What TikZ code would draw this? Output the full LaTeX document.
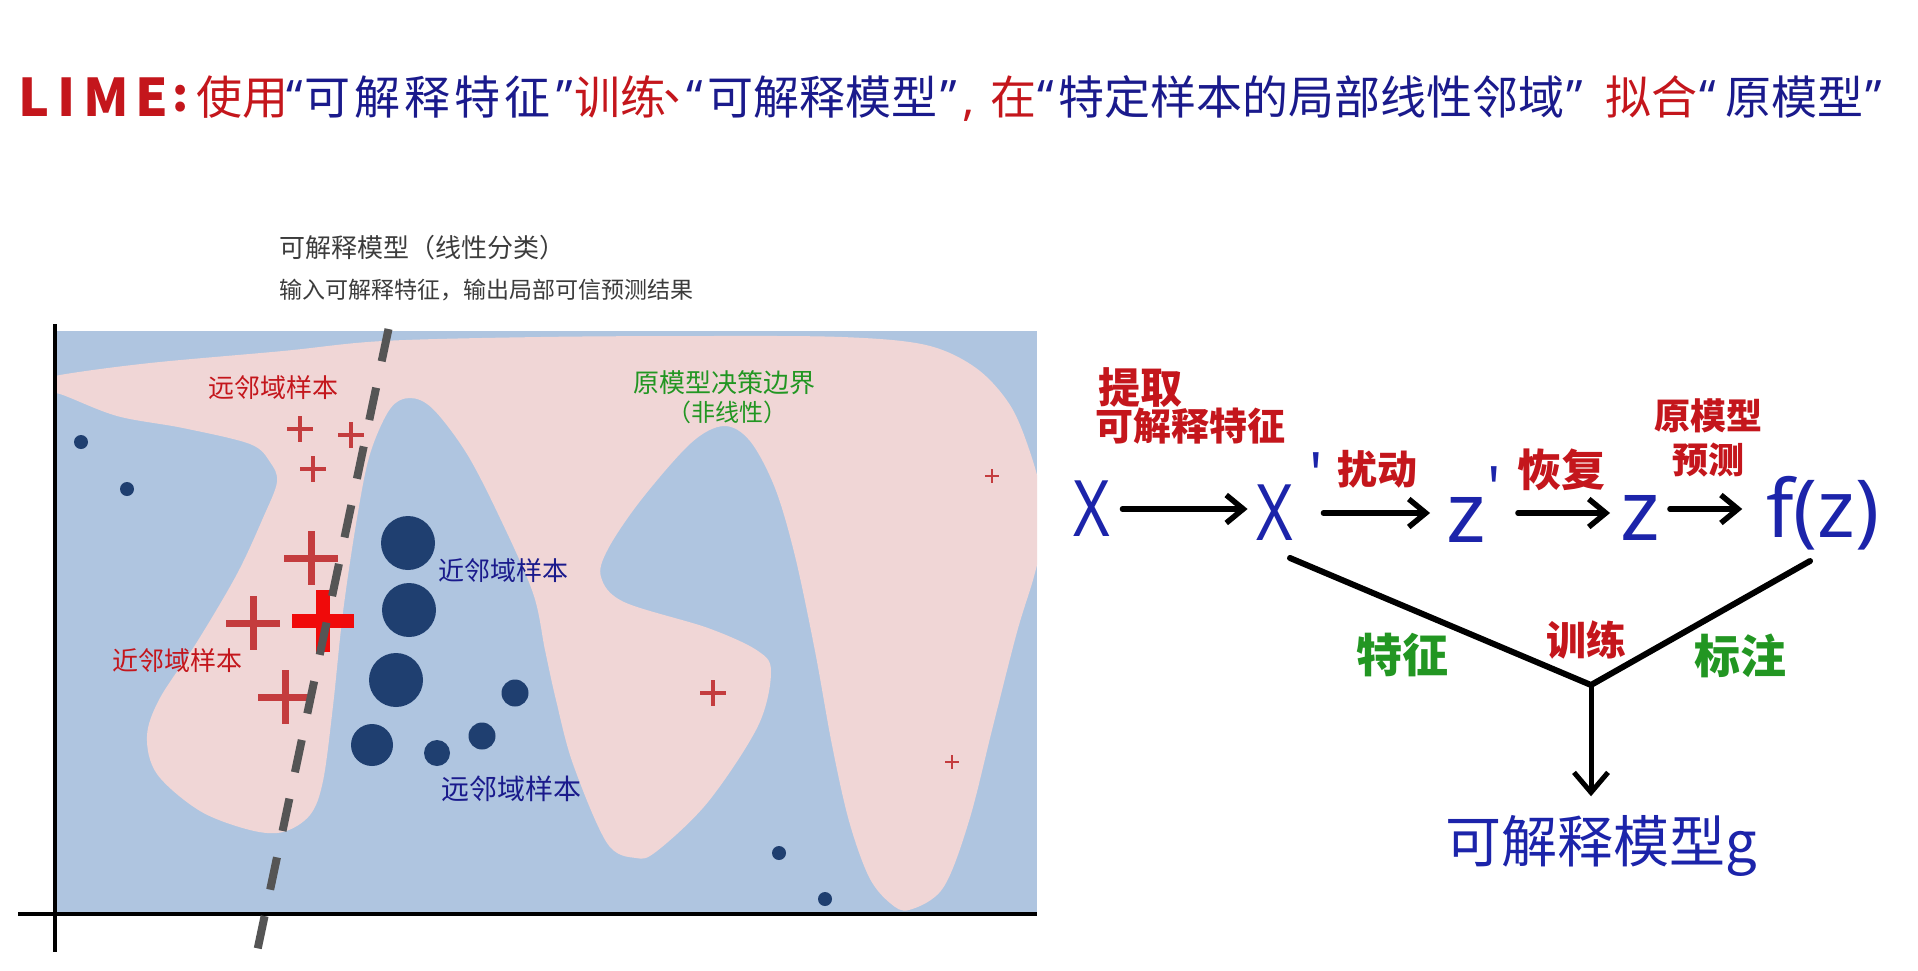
\documentclass[tikz,border=0pt]{standalone}
\usepackage{fontspec}
\setmainfont{Noto Sans CJK SC}
\newfontfamily\latf{Noto Sans}
\usetikzlibrary{arrows.meta,calc}
\definecolor{tred}{RGB}{196,22,28}
\definecolor{tblue}{RGB}{26,26,140}
\definecolor{tgreen}{RGB}{34,150,34}
\definecolor{dblue}{RGB}{28,36,170}
\definecolor{plotblue}{RGB}{175,197,224}
\definecolor{plotpink}{RGB}{240,214,214}
\definecolor{dotblue}{RGB}{31,63,112}
\definecolor{crossred}{RGB}{196,60,62}
\definecolor{brightred}{RGB}{240,10,10}
\definecolor{annogray}{RGB}{60,60,60}
\definecolor{dashgray}{RGB}{85,85,85}
\newcommand\fs[1]{\fontsize{#1}{#1}\selectfont}
\newcommand\pcross[5]{\draw[#5,line width=#4] (#1,#2) +(-#3,0) -- +(#3,0) +(0,-#3) -- +(0,#3);}
\begin{document}
\begin{tikzpicture}[x=1pt,y=-1pt,
  ttl/.style={anchor=west,inner sep=0pt,font=\fs{46}},
  qt/.style={anchor=west,inner sep=0pt,text=tblue,font=\latf\fs{46}},
  anno/.style={anchor=west,inner sep=0pt,text=annogray},
  lbl/.style={inner sep=0pt,font=\fs{26}},
  rl/.style={inner sep=0pt,text=tred,font=\bfseries\fs{40}},
  gl/.style={inner sep=0pt,text=tgreen,font=\bfseries\fs{46}},
  let/.style={inner sep=0pt,text=dblue,font=\latf\fs{78}},
  harr/.style={line width=5.5pt,line cap=round,line join=round,-{Straight Barb[length=17pt,width=28pt]}},
  varr/.style={line width=5pt,line cap=round,line join=round,-{Straight Barb[length=20pt,width=34pt]}},
  vline/.style={line width=6pt,line cap=round,line join=round}]
\useasboundingbox (0,0) rectangle (1918,970);
\fill[white] (0,0) rectangle (1918,970);
% ---------- title ----------
\node[ttl,text=tred,font=\bfseries\fs{52}] (lime) at (18,97) {L\kern8pt I\kern8pt M\kern6pt E};
\node[ttl,text=tred,font=\bfseries\fs{46}] (colon) at (172,99) {:};
\node[ttl,text=tred] (t1) at (196,97) {使用};
\node[qt] (q1) at (286,97) {“};
\node[ttl,text=tblue,font=\fs{46}\addfontfeature{LetterSpace=9}] (t2) at (304,97) {可解释特征};
\node[qt] (q2) at (556,97) {”};
\node[ttl,text=tred] (t3) at (574,97) {训练};
\node[ttl,text=tred] (t3b) at (664,97) {､};
\node[qt] (q3) at (686,97) {“};
\node[ttl,text=tblue] (t4) at (707,97) {可解释模型};
\node[qt] (q4) at (940,97) {”};
\node[qt,text=tred] (t5) at (962,116) {,};
\node[ttl,text=tred] (t6) at (990,97) {在};
\node[qt] (q5) at (1037,97) {“};
\node[ttl,text=tblue] (t7) at (1058,97) {特定样本的局部线性邻域};
\node[qt] (q6) at (1566,97) {”};
\node[ttl,text=tred] (t8) at (1605,97) {拟合};
\node[qt] (q7) at (1699,97) {“};
\node[ttl,text=tblue] (t9) at (1725,97) {原模型};
\node[qt] (q8) at (1865,97) {”};
% ---------- annotation ----------
\node[anno,font=\fs{26}] (a1) at (279,248) {可解释模型（线性分类）};
\node[anno,font=\fs{23}] (a2) at (279,290) {输入可解释特征，输出局部可信预测结果};
% ---------- plot ----------
\fill[plotblue] (57,331) rectangle (1037,914);
\begin{scope}
\clip (57,331) rectangle (1037,914);
\fill[plotpink] plot[smooth cycle,tension=0.55] coordinates {
(45,382) (60,375) (150,363) (283,351) (383,341) (540,337) (700,336) (842,337) (926,345) (976,368) (1010,405) (1030,452) (1042,500) (1040,548) (1033,580) (1017,632) (993,726) (969,821) (943,888) (909,910) (890,903) (869,877) (849,821) (832,745) (815,651) (795,556) (775,488) (750,441) (724,426) (691,443) (641,500) (608,549) (601,577) (624,602) (708,628) (758,651) (771,672) (758,726) (708,802) (657,851) (636,858) (607,843) (573,764) (556,700) (545,650) (533,593) (500,518) (467,454) (433,409) (410,398) (390,409) (370,454) (357,518) (343,612) (333,706) (323,781) (310,815) (283,832) (250,830) (200,811) (157,774) (147,736) (160,698) (197,642) (237,574) (263,518) (277,482) (270,462) (250,444) (183,428) (117,416) (60,394) (45,394)};
\end{scope}
% dots
\fill[dotblue] (81,442) circle[radius=7pt];
\fill[dotblue] (127,489) circle[radius=7pt];
\fill[dotblue] (779,853) circle[radius=7pt];
\fill[dotblue] (825,899) circle[radius=7pt];
\fill[dotblue] (408,543) circle[radius=27pt];
\fill[dotblue] (409,610) circle[radius=27pt];
\fill[dotblue] (396,680) circle[radius=27pt];
\fill[dotblue] (372,745) circle[radius=21pt];
\fill[dotblue] (437,753) circle[radius=13pt];
\fill[dotblue] (482,736) circle[radius=13.5pt];
\fill[dotblue] (515,693) circle[radius=13.5pt];
% crosses
\pcross{300}{429}{13}{3.2pt}{crossred}
\pcross{351}{435}{13}{3.2pt}{crossred}
\pcross{313}{469}{13}{3.2pt}{crossred}
\pcross{311}{558}{27}{7pt}{crossred}
\pcross{253}{623}{27}{7pt}{crossred}
\pcross{285}{697}{27}{7pt}{crossred}
\pcross{992}{476}{7}{2pt}{crossred}
\pcross{713}{693}{13}{3.2pt}{crossred}
\pcross{952}{762}{7}{2pt}{crossred}
\pcross{323}{621}{31}{14pt}{brightred}
% axes
\draw[line width=3.5pt] (55,324) -- (55,952);
\draw[line width=3.5pt] (18,914) -- (1037,914);
% dashed linear boundary
\draw[dashgray,line width=8pt,dash pattern=on 33pt off 27pt] (388.5,329) -- (257,952);
% plot labels
\node[lbl,text=tred] (far1) at (273,388) {远邻域样本};
\node[lbl,text=tgreen] (bd1) at (724,383) {原模型决策边界};
\node[lbl,text=tgreen,font=\fs{24}] (bd2) at (727,412) {（非线性）};
\node[lbl,text=tblue] (near1) at (503,571) {近邻域样本};
\node[lbl,text=tred] (near2) at (177,661) {近邻域样本};
\node[lbl,text=tblue,font=\fs{28}] (far2) at (511,789) {远邻域样本};
% ---------- right diagram ----------
\node[rl,font=\bfseries\fs{42}] (ext1) at (1140,388) {提取};
\node[rl,font=\bfseries\fs{38}] (ext2) at (1190,426) {可解释特征};
\node[rl] (pert) at (1377,469) {扰动};
\node[rl,font=\bfseries\fs{44}] (rec) at (1561,470) {恢复};
\node[rl,font=\bfseries\fs{36}] (orig1) at (1708,416) {原模型};
\node[rl,font=\bfseries\fs{36}] (orig2) at (1708,460) {预测};
\node[let,xscale=0.8] (x1) at (1092,509) {X};
\node[let,xscale=0.8] (x2) at (1275,513) {X};
\node[let,font=\latf\fs{60}] (p1) at (1316,474) {'};
\node[let,font=\latf\fs{84}] (z1) at (1466,520) {z};
\node[let,font=\latf\fs{60}] (p2) at (1494,488) {'};
\node[let,font=\latf\fs{84}] (z2) at (1640,518) {z};
\node[let,font=\latf\fs{80}] (fz) at (1823,513) {f(z)};
\draw[harr] ([xshift=12pt]x1.east) -- ([xshift=-9pt]x1.east -| x2.west);
\draw[harr] ([xshift=30pt]x2.east) -- ([xshift=-16pt]x2.east -| z1.west);
\draw[harr] ([xshift=32pt]z1.east |- x2.east) -- ([xshift=-10pt]x2.east -| z2.west);
\draw[harr] ([xshift=10pt]z2.east |- x1.east) -- ([xshift=-24pt]x1.east -| fz.west);
\coordinate (vl) at (1290,558);
\coordinate (vr) at (1810,561);
\coordinate (v) at (1591,685);
\draw[vline] (vl) -- (v) -- (vr);
\node[inner sep=0pt,text=dblue,font=\fs{56}] (g) at (1601,846) {可解释模型g};
\draw[varr,shorten >=19pt] (v) -- (v |- g.north);
\node[rl] (train) at (1586,640) {训练};
\node[gl] (feat) at (1402,655) {特征};
\node[gl] (lab) at (1740,656) {标注};
\end{tikzpicture}
\end{document}
